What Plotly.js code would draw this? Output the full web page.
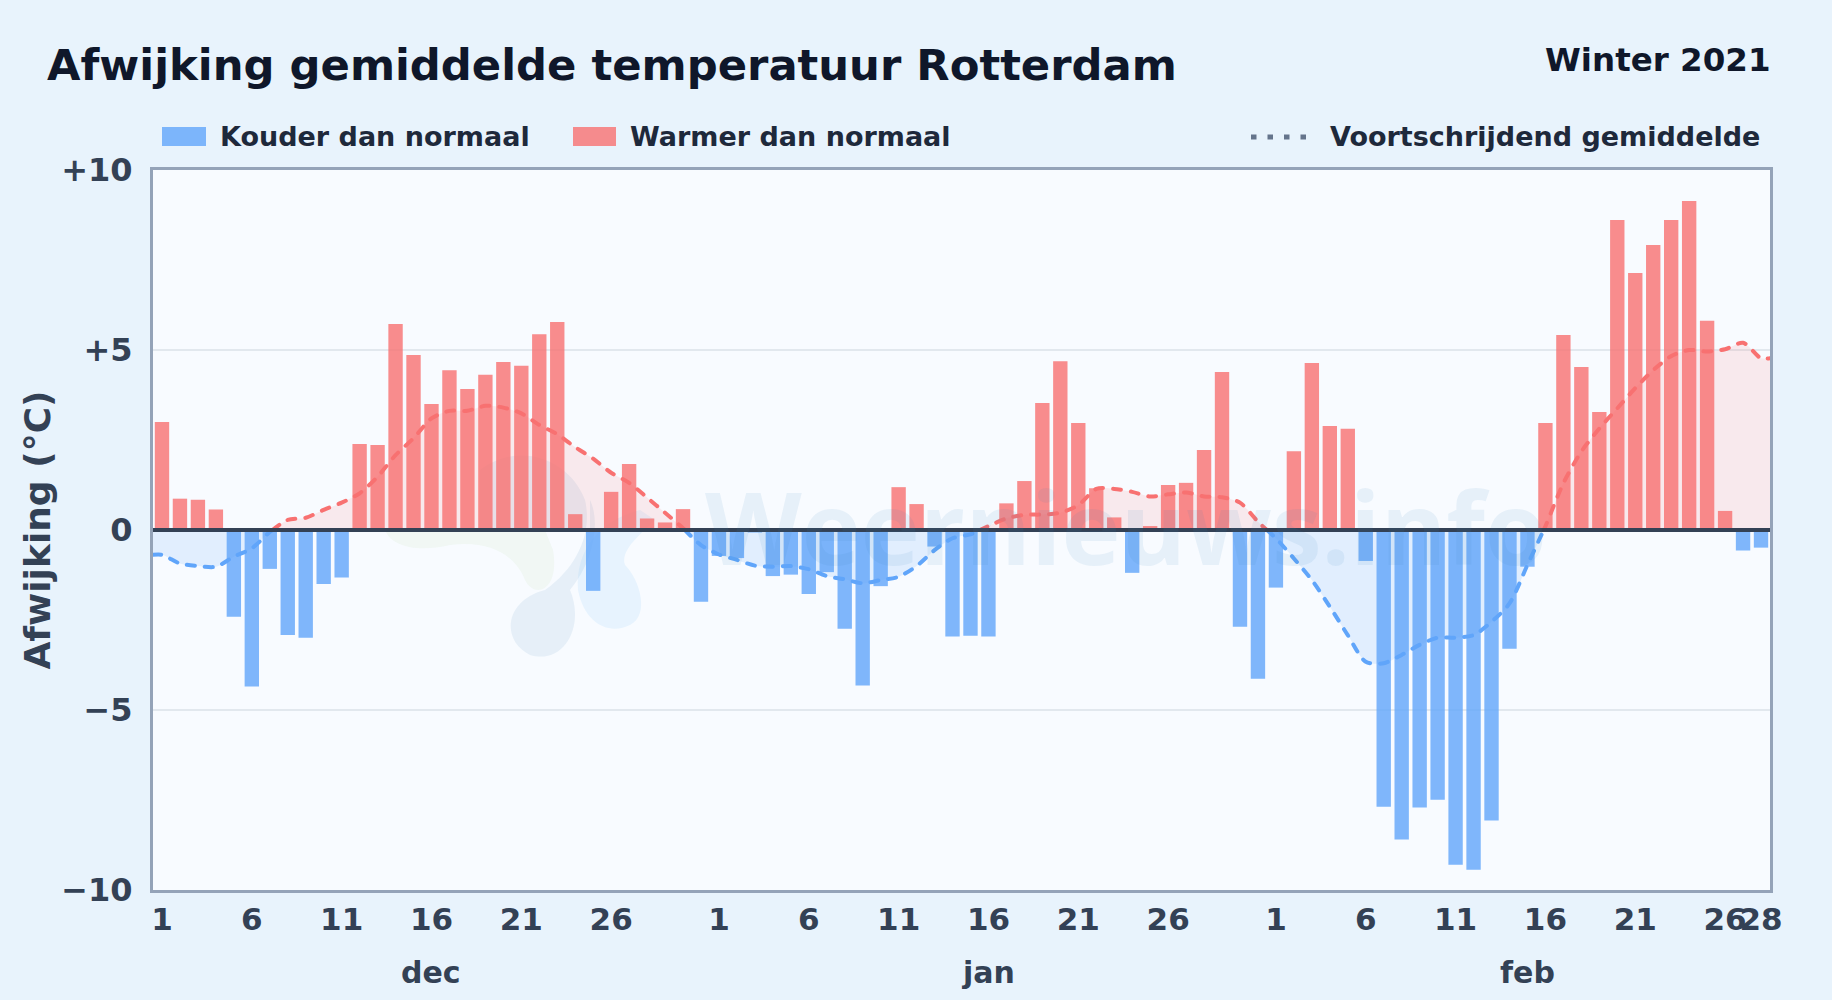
<!DOCTYPE html>
<html><head><meta charset="utf-8">
<script src="https://cdn.plot.ly/plotly-3.0.1.min.js"></script>
<style>html,body{margin:0;padding:0;width:1832px;height:1000px;overflow:hidden;background:#e8f3fc}
.scatterlayer .js-line{stroke-linecap:round}</style>
</head><body><div id="chart" style="width:1832px;height:1000px"></div>
<script>
var months = ["dec","jan","feb"];
var monthDays = [31,31,28];
var tickDays = [[1,6,11,16,21,26],[1,6,11,16,21,26],[1,6,11,16,21,26,28]];
var dec = [3.0,0.87,0.84,0.57,-2.41,-4.35,-1.08,-2.92,-2.99,-1.5,-1.32,2.39,2.36,5.72,4.86,3.5,4.44,3.92,4.31,4.67,4.56,5.44,5.78,0.44,-1.69,1.06,1.83,0.32,0.21,0.58,-1.99];
var jan = [-0.72,-0.78,-0.07,-1.28,-1.24,-1.78,-1.17,-2.74,-4.32,-1.56,1.19,0.72,-0.46,-2.96,-2.94,-2.96,0.74,1.36,3.53,4.69,2.97,1.16,0.35,-1.19,0.11,1.25,1.31,2.22,4.39,-2.69,-4.13];
var feb = [-1.6,2.19,4.64,2.89,2.81,-0.86,-7.69,-8.6,-7.71,-7.49,-9.3,-9.44,-8.07,-3.3,-1.02,2.97,5.42,4.53,3.28,8.61,7.14,7.92,8.61,9.14,5.81,0.53,-0.57,-0.49];
var maDec = [-0.69,-0.93,-1.0,-1.02,-0.74,-0.51,-0.05,0.28,0.34,0.56,0.76,1.02,1.48,2.08,2.55,3.1,3.31,3.31,3.45,3.4,3.24,2.92,2.66,2.3,1.98,1.59,1.31,0.9,0.48,0.05,-0.42];
var maJan = [-0.68,-0.83,-0.99,-1.02,-1.0,-1.09,-1.28,-1.37,-1.48,-1.39,-1.3,-1.0,-0.56,-0.23,-0.12,0.11,0.32,0.42,0.43,0.48,0.69,1.14,1.14,1.06,0.93,0.99,1.04,0.93,0.91,0.76,0.23];
var maFeb = [-0.23,-0.79,-1.39,-2.13,-2.92,-3.66,-3.7,-3.47,-3.19,-2.99,-2.99,-2.92,-2.55,-2.04,-0.97,0.1,1.3,2.18,2.82,3.38,3.94,4.44,4.83,5.0,4.96,5.02,5.2,4.77];
var yTickVals = [10,5,0,-5,-10];
var yTickText = ["+10","+5","0","\u22125","\u221210"];
var labels = {cold:"Kouder dan normaal",warm:"Warmer dan normaal",avg:"Voortschrijdend gemiddelde"};

var W=1832,H=1000,L=153,R=1770,T=170,B=890;
function px(x){return (x-L)/(R-L);}
function py(y){return (B-y)/(B-T);}
function pth(str){
  return str.replace(/(-?\d+\.?\d*),(-?\d+\.?\d*)/g,function(m,a,b){return px(+a).toFixed(5)+','+py(+b).toFixed(5);});
}

var dev = dec.concat(jan,feb);
var ma = maDec.concat(maJan,maFeb);
var idx = dev.map(function(_,i){return i;});
var coldX=[],coldY=[],warmX=[],warmY=[];
dev.forEach(function(v,i){ if(v<0){coldX.push(i);coldY.push(v);} else {warmX.push(i);warmY.push(v);} });

var mx=[-0.5].concat(idx,[89.5]), my=[ma[0]].concat(ma,[ma[ma.length-1]]);
var upX=[],upY=[],dnX=[],dnY=[];
for(var i=0;i<mx.length;i++){
  if(my[i]>=0){upX.push(mx[i]);upY.push(my[i]);dnX.push(mx[i]);dnY.push(null);}
  else{dnX.push(mx[i]);dnY.push(my[i]);upX.push(mx[i]);upY.push(null);}
  if(i<mx.length-1 && my[i]*my[i+1]<0){
    var c=mx[i]+(mx[i+1]-mx[i])*my[i]/(my[i]-my[i+1]);
    upX.push(c);upY.push(0);dnX.push(c);dnY.push(0);
  }
}
function lineTrace(x,y,col,fill,name){return {type:'scatter',mode:'lines',x:x,y:y,name:name,fill:'tozeroy',fillcolor:fill,
  line:{color:col,width:4,dash:'8px,10px',shape:'spline',smoothing:0.8},hoverinfo:'skip',showlegend:false};}

var tickVals=[],tickText=[],offset=0,monthCentres=[];
months.forEach(function(m,k){
  tickDays[k].forEach(function(d){tickVals.push(offset+d-1);tickText.push(String(d));});
  monthCentres.push(offset+(k==2?14:15));
  offset+=monthDays[k];
});

var traces=[
 {type:'bar',x:coldX,y:coldY,name:labels.cold,width:0.8,marker:{color:'rgba(96,165,250,0.8)',line:{width:0}},showlegend:false},
 {type:'bar',x:warmX,y:warmY,name:labels.warm,width:0.8,marker:{color:'rgba(248,113,113,0.8)',line:{width:0}},showlegend:false},
 lineTrace(dnX,dnY,'#60a5fa','rgba(96,165,250,0.15)',labels.avg),
 lineTrace(upX,upY,'#f87171','rgba(248,113,113,0.13)',labels.avg)
];

var xTickFont={family:'DejaVu Sans',size:31,color:'#334155',weight:700};
var yTickFont={family:'DejaVu Sans',size:32,color:'#334155',weight:700};
var annFont=function(s,c){return {family:'DejaVu Sans',size:s,color:c,weight:700};};
var ann=[
 {xref:'paper',yref:'paper',x:px(1773),y:py(60),xanchor:'right',yanchor:'middle',text:'Winter 2021',showarrow:false,font:annFont(32.5,'#0f172a')},
 {xref:'paper',yref:'paper',x:px(218),y:py(137),xanchor:'left',yanchor:'middle',text:labels.cold,showarrow:false,font:annFont(27,'#1e293b')},
 {xref:'paper',yref:'paper',x:px(628),y:py(137),xanchor:'left',yanchor:'middle',text:labels.warm,showarrow:false,font:annFont(27,'#1e293b')},
 {xref:'paper',yref:'paper',x:px(1762),y:py(137),xanchor:'right',yanchor:'middle',text:labels.avg,showarrow:false,font:annFont(27,'#1e293b')},
 {xref:'paper',yref:'paper',x:px(703),y:py(526),xanchor:'left',yanchor:'middle',text:'Weernieuws.info',showarrow:false,font:{family:'Open Sans',size:100,color:'rgba(60,130,190,0.09)',weight:700}}
];
months.forEach(function(m,k){
  ann.push({xref:'x',yref:'paper',x:monthCentres[k],y:py(972),xanchor:'center',yanchor:'middle',text:m,showarrow:false,font:annFont(30,'#334155')});
});

var shapes=[
 {type:'rect',xref:'paper',yref:'paper',x0:px(162),x1:px(206),y0:py(127),y1:py(146),fillcolor:'rgba(96,165,250,0.8)',line:{width:0}},
 {type:'rect',xref:'paper',yref:'paper',x0:px(573),x1:px(616),y0:py(127),y1:py(146),fillcolor:'rgba(248,113,113,0.8)',line:{width:0}},
 {type:'line',xref:'paper',yref:'paper',x0:px(1251),x1:px(1308),y0:py(137),y1:py(137),line:{color:'#64748b',width:5,dash:'5.5px,11px'}},
 {type:'line',xref:'paper',yref:'y',x0:0,x1:1,y0:0,y1:0,line:{color:'#334155',width:4}},
 {type:'path',layer:'below',xref:'paper',yref:'paper',path:pth('M385,530 C392,548 420,552 450,545 C490,540 515,555 525,580 C535,600 560,590 553,550 L545,530 Z'),fillcolor:'rgba(190,225,170,0.13)',line:{width:0}},
 {type:'path',layer:'below',xref:'paper',yref:'paper',path:pth('M480,470 C520,440 570,460 585,500 C592,530 580,565 545,590 C505,600 500,640 530,655 C565,665 585,625 570,590 C595,560 600,520 590,500 L590,530 L480,530 Z'),fillcolor:'rgba(150,190,215,0.18)',line:{width:0}},
 {type:'path',layer:'below',xref:'paper',yref:'paper',path:pth('M640,510 C600,520 575,550 578,590 C585,625 610,635 630,625 C650,615 640,580 625,565 C620,550 640,535 655,520 Z'),fillcolor:'rgba(125,195,250,0.14)',line:{width:0}}
];

var layout={
 width:W,height:H,autosize:false,
 margin:{l:L,r:W-R,t:T,b:H-B,pad:0},
 paper_bgcolor:'#e8f3fc',plot_bgcolor:'#f8fbff',
 showlegend:false,barmode:'overlay',
 title:{text:'Afwijking gemiddelde temperatuur Rotterdam',x:47/W,xanchor:'left',xref:'container',y:1-65/H,yanchor:'middle',font:{family:'DejaVu Sans',size:43.3,color:'#0f172a',weight:700}},
 xaxis:{type:'linear',range:[-0.5,89.5],tickmode:'array',tickvals:tickVals,ticktext:tickText,tickangle:0,ticks:'',
   tickfont:xTickFont,showgrid:false,zeroline:false,showline:true,linecolor:'#94a3b8',linewidth:3,mirror:true},
 yaxis:{range:[-10,10],tickmode:'array',tickvals:yTickVals,ticktext:yTickText,ticks:'outside',ticklen:11,tickcolor:'rgba(0,0,0,0)',tickfont:yTickFont,
   showgrid:true,gridcolor:'#e2e8ee',gridwidth:2,zeroline:false,showline:true,linecolor:'#94a3b8',linewidth:3,mirror:true,
   title:{text:'Afwijking (\u00b0C)',font:{family:'DejaVu Sans',size:36,color:'#334155',weight:700},standoff:0}},
 annotations:ann,shapes:shapes
};
Plotly.newPlot('chart',traces,layout,{staticPlot:true,displayModeBar:false});
</script></body></html>
